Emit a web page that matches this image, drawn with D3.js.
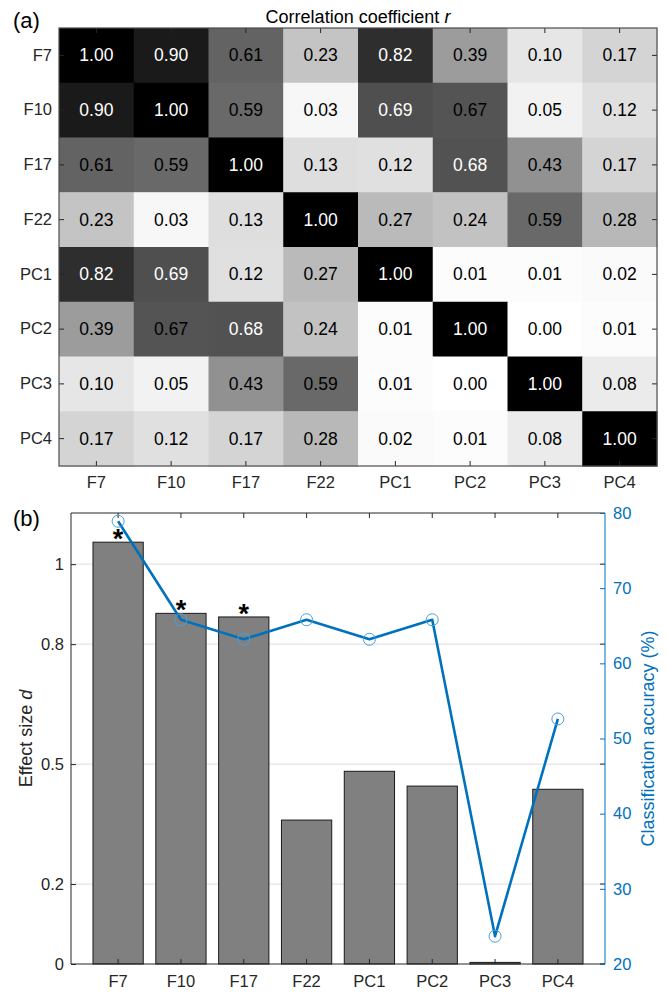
<!DOCTYPE html>
<html>
<head>
<meta charset="utf-8">
<script src="https://cdn.jsdelivr.net/npm/d3@7/dist/d3.min.js"></script>
<style>
  html, body { margin: 0; padding: 0; background: #ffffff; }
  svg { display: block; font-family: "Liberation Sans", Arial, sans-serif; }
</style>
</head>
<body>
<svg id="fig" width="668" height="993"></svg>
<script>
// Feature names shared by both panels
const features = ["F7", "F10", "F17", "F22", "PC1", "PC2", "PC3", "PC4"];

// Panel (a): pairwise correlation coefficients r (rows follow features)
const corrF7  = [1.00, 0.90, 0.61, 0.23, 0.82, 0.39, 0.10, 0.17];
const corrF10 = [0.90, 1.00, 0.59, 0.03, 0.69, 0.67, 0.05, 0.12];
const corrF17 = [0.61, 0.59, 1.00, 0.13, 0.12, 0.68, 0.43, 0.17];
const corrF22 = [0.23, 0.03, 0.13, 1.00, 0.27, 0.24, 0.59, 0.28];
const corrPC1 = [0.82, 0.69, 0.12, 0.27, 1.00, 0.01, 0.01, 0.02];
const corrPC2 = [0.39, 0.67, 0.68, 0.24, 0.01, 1.00, 0.00, 0.01];
const corrPC3 = [0.10, 0.05, 0.43, 0.59, 0.01, 0.00, 1.00, 0.08];
const corrPC4 = [0.17, 0.12, 0.17, 0.28, 0.02, 0.01, 0.08, 1.00];
const corrRows = [corrF7, corrF10, corrF17, corrF22, corrPC1, corrPC2, corrPC3, corrPC4];

// Panel (b): effect size d (bars), classification accuracy % (line), significance marks
const effectSize = [1.055, 0.877, 0.868, 0.360, 0.482, 0.445, 0.004, 0.437];
const accuracy   = [78.9, 65.8, 63.2, 65.8, 63.2, 65.8, 23.7, 52.6];
const significant = [true, true, true, false, false, false, false, false];
const leftTicks  = [0, 0.2, 0.5, 0.8, 1];
const rightTicks = [20, 30, 40, 50, 60, 70, 80];

const ink = "#262626";
const blue = "#0072BD";
const svg = d3.select("#fig");

/* ---------------- Panel (a): correlation matrix ---------------- */
const A = { left: 59, right: 657, top: 28, bottom: 466 };
const ax = d3.scaleBand().domain(features).range([A.left, A.right]);
const ay = d3.scaleBand().domain(features).range([A.top, A.bottom]);
const grey = d3.scaleLinear().domain([0, 1]).range(["#ffffff", "#000000"]);

const cells = [];
corrRows.forEach((row, i) => row.forEach((r, j) => cells.push({ row: features[i], col: features[j], r })));

const ga = svg.append("g");
ga.selectAll("rect.cell").data(cells).join("rect")
  .attr("class", "cell")
  .attr("x", d => ax(d.col)).attr("y", d => ay(d.row))
  .attr("width", ax.bandwidth() + 0.5).attr("height", ay.bandwidth() + 0.5)
  .attr("fill", d => grey(d.r));

ga.selectAll("text.val").data(cells).join("text")
  .attr("class", "val")
  .attr("x", d => ax(d.col) + ax.bandwidth() / 2)
  .attr("y", d => ay(d.row) + ay.bandwidth() / 2)
  .attr("text-anchor", "middle").attr("dominant-baseline", "central")
  .attr("font-size", 17.5)
  .attr("fill", d => d.r > 0.675 ? "#ffffff" : "#000000")
  .text(d => d.r.toFixed(2));

// axes of the matrix, ticks pointing inward, mirrored on all four sides
const tickLen = 5;
const axA = ga.append("g");
axA.append("g").attr("transform", `translate(0,${A.bottom})`)
  .call(d3.axisBottom(ax).tickSize(0).tickPadding(10))
  .call(g => g.select(".domain").remove());
axA.append("g").attr("transform", `translate(${A.left},0)`)
  .call(d3.axisLeft(ay).tickSize(0).tickPadding(7))
  .call(g => g.select(".domain").remove());
axA.selectAll(".tick text").attr("font-size", 16.5).attr("fill", ink).attr("font-family", null);

const tickA = ga.append("g").attr("stroke", ink).attr("stroke-width", 1);
features.forEach(f => {
  const cx = ax(f) + ax.bandwidth() / 2, cy = ay(f) + ay.bandwidth() / 2;
  tickA.append("line").attr("x1", cx).attr("x2", cx).attr("y1", A.top).attr("y2", A.top + tickLen);
  tickA.append("line").attr("x1", cx).attr("x2", cx).attr("y1", A.bottom).attr("y2", A.bottom - tickLen);
  tickA.append("line").attr("y1", cy).attr("y2", cy).attr("x1", A.left).attr("x2", A.left + tickLen);
  tickA.append("line").attr("y1", cy).attr("y2", cy).attr("x1", A.right).attr("x2", A.right - tickLen);
});
ga.append("rect")
  .attr("x", A.left).attr("y", A.top)
  .attr("width", A.right - A.left).attr("height", A.bottom - A.top)
  .attr("fill", "none").attr("stroke", "#4d4d4d").attr("stroke-width", 1.2);

const title = ga.append("text")
  .attr("x", (A.left + A.right) / 2).attr("y", 23)
  .attr("text-anchor", "middle").attr("font-size", 18).attr("fill", "#000");
title.append("tspan").text("Correlation coefficient ");
title.append("tspan").attr("font-style", "italic").text("r");

svg.append("text").attr("x", 13).attr("y", 28).attr("font-size", 22).attr("fill", "#000").text("(a)");

/* ---------------- Panel (b): effect size and accuracy ---------------- */
const B = { left: 71, right: 605, top: 513, bottom: 964 };
const gb = svg.append("g");
// category positions 1..8 on a continuous axis padded by a quarter step
const bx = d3.scaleLinear().domain([0.25, 8.75]).range([B.left, B.right]);
const step = bx(2) - bx(1);
const barW = step * 0.8;
const yL = d3.scaleLinear().domain([0, 1.128]).range([B.bottom, B.top]);
const yR = d3.scaleLinear().domain([20, 80]).range([B.bottom, B.top]);

// horizontal grid at the left-axis ticks
gb.append("g").selectAll("line").data(leftTicks.filter(t => t > 0)).join("line")
  .attr("x1", B.left).attr("x2", B.right)
  .attr("y1", d => yL(d)).attr("y2", d => yL(d))
  .attr("stroke", "#e3e3e3").attr("stroke-width", 1.2);

// bars
gb.append("g").selectAll("rect").data(effectSize).join("rect")
  .attr("x", (d, i) => bx(i + 1) - barW / 2)
  .attr("y", d => yL(d))
  .attr("width", barW)
  .attr("height", d => yL(0) - yL(d))
  .attr("fill", "#808080").attr("stroke", "#1a1a1a").attr("stroke-width", 1);

// significance asterisks, centred about 10px above each marked bar
const starSize = 27;
gb.append("g").selectAll("text").data(effectSize.map((d, i) => ({ d, i })).filter(o => significant[o.i])).join("text")
  .attr("x", o => bx(o.i + 1))
  .attr("y", o => yL(o.d) - 10 + 0.58 * starSize)
  .attr("text-anchor", "middle").attr("font-size", starSize).attr("font-weight", "bold")
  .attr("fill", "#000").text("*");

// box: top and bottom lines
gb.append("line").attr("x1", B.left).attr("x2", B.right).attr("y1", B.top).attr("y2", B.top)
  .attr("stroke", ink).attr("stroke-width", 1);
gb.append("line").attr("x1", B.left).attr("x2", B.right).attr("y1", B.bottom).attr("y2", B.bottom)
  .attr("stroke", ink).attr("stroke-width", 1);

// category ticks on bottom and top edges, pointing inward
const tickB = gb.append("g").attr("stroke", ink).attr("stroke-width", 1);
features.forEach((f, i) => {
  const cx = bx(i + 1);
  tickB.append("line").attr("x1", cx).attr("x2", cx).attr("y1", B.bottom).attr("y2", B.bottom - tickLen);
  tickB.append("line").attr("x1", cx).attr("x2", cx).attr("y1", B.top).attr("y2", B.top + tickLen);
});
// left-axis ticks mirrored at the right edge
leftTicks.forEach(t => {
  tickB.append("line").attr("x1", B.right).attr("x2", B.right - tickLen).attr("y1", yL(t)).attr("y2", yL(t));
});

// x labels
gb.append("g").selectAll("text").data(features).join("text")
  .attr("x", (d, i) => bx(i + 1)).attr("y", B.bottom + 23)
  .attr("text-anchor", "middle").attr("font-size", 16.5).attr("fill", ink).text(d => d);

// left axis
const leftAxis = gb.append("g").attr("transform", `translate(${B.left},0)`)
  .call(d3.axisRight(yL).tickValues(leftTicks).tickSize(tickLen).tickFormat(d3.format("~g")));
leftAxis.select(".domain").attr("stroke", ink).attr("d", `M0,${B.top}V${B.bottom}`);
leftAxis.selectAll(".tick line").attr("stroke", ink);
leftAxis.selectAll(".tick text").attr("x", -7).attr("text-anchor", "end")
  .attr("font-size", 16.5).attr("fill", ink).attr("font-family", null);

const yLabel = gb.append("text")
  .attr("transform", `translate(32,${(B.top + B.bottom) / 2}) rotate(-90)`)
  .attr("text-anchor", "middle").attr("font-size", 18).attr("fill", ink);
yLabel.append("tspan").text("Effect size ");
yLabel.append("tspan").attr("font-style", "italic").text("d");

// right axis (accuracy)
const rightAxis = gb.append("g").attr("transform", `translate(${B.right},0)`)
  .call(d3.axisLeft(yR).tickValues(rightTicks).tickSize(tickLen));
rightAxis.select(".domain").attr("stroke", blue).attr("d", `M0,${B.top}V${B.bottom}`);
rightAxis.selectAll(".tick line").attr("stroke", blue);
rightAxis.selectAll(".tick text").attr("x", 8).attr("text-anchor", "start")
  .attr("font-size", 16.5).attr("fill", blue).attr("font-family", null);

gb.append("text")
  .attr("transform", `translate(654,${(B.top + B.bottom) / 2}) rotate(-90)`)
  .attr("text-anchor", "middle").attr("font-size", 18).attr("fill", blue)
  .text("Classification accuracy (%)");

// accuracy line with open circle markers
const line = d3.line().x((d, i) => bx(i + 1)).y(d => yR(d));
gb.append("path").datum(accuracy).attr("d", line)
  .attr("fill", "none").attr("stroke", blue).attr("stroke-width", 2.6).attr("stroke-linejoin", "round");
gb.append("g").selectAll("circle").data(accuracy).join("circle")
  .attr("cx", (d, i) => bx(i + 1)).attr("cy", d => yR(d)).attr("r", 6)
  .attr("fill", "none").attr("stroke", "#4a9fd8").attr("stroke-width", 1);

svg.append("text").attr("x", 13).attr("y", 526).attr("font-size", 22).attr("fill", "#000").text("(b)");
</script>
</body>
</html>
